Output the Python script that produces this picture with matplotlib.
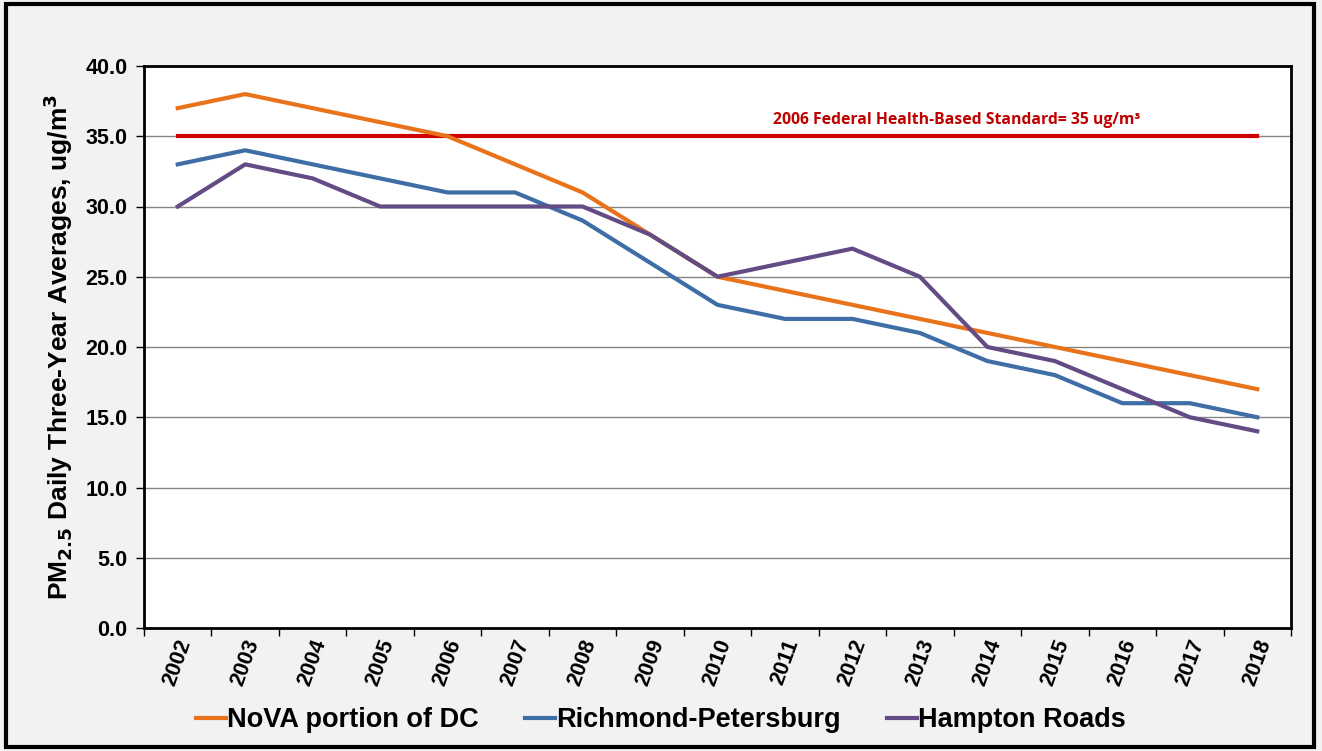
import matplotlib.pyplot as plt
from matplotlib.patches import Rectangle

years = [str(y) for y in range(2002, 2019)]
nova = [37, 38, 37, 36, 35, 33, 31, 28, 25, 24, 23, 22, 21, 20, 19, 18, 17]
richmond = [33, 34, 33, 32, 31, 31, 29, 26, 23, 22, 22, 21, 19, 18, 16, 16, 15]
hampton = [30, 33, 32, 30, 30, 30, 30, 28, 25, 26, 27, 25, 20, 19, 17, 15, 14]
standard = 35
yticks = [0, 5, 10, 15, 20, 25, 30, 35, 40]

plt.rcParams['font.family'] = ['Liberation Sans', 'DejaVu Sans']

fig = plt.figure(figsize=(13.22, 7.51), dpi=100, facecolor='#f2f2f2')
# outer frame
fig.patches.append(Rectangle((6 / 1322, 4 / 751), 1308 / 1322, 743 / 751,
                             transform=fig.transFigure, fill=False,
                             edgecolor='black', linewidth=3))

ax = fig.add_axes([144 / 1322, (751 - 628) / 751, 1147 / 1322, 562 / 751])
ax.set_facecolor('white')

x = list(range(len(years)))
lw = 3.0
ax.plot(x, [standard] * len(x), color='#d00000', lw=lw, zorder=3)
ax.plot(x, nova, color='#e8731a', lw=lw, label='NoVA portion of DC', zorder=4)
ax.plot(x, richmond, color='#3f6ea6', lw=lw, label='Richmond-Petersburg', zorder=4)
ax.plot(x, hampton, color='#634b85', lw=lw, label='Hampton Roads', zorder=4)

ax.text(11.55, 35.6, '2006 Federal Health-Based Standard= 35 ug/m³', color='#c00000',
        fontsize=11.3, fontweight='bold', family=['Open Sans', 'DejaVu Sans'],
        ha='center', va='bottom')

ax.set_xlim(-0.5, len(years) - 0.5)
ax.set_ylim(0, 40)
ax.set_yticks(yticks)
ax.set_yticklabels([f'{v:.1f}' for v in yticks], fontsize=15.5, fontweight='bold')
ax.yaxis.grid(True, color='#858585', lw=1)
ax.set_axisbelow(True)

# category axis: ticks between categories, labels centred
ax.set_xticks([i - 0.5 for i in range(len(years) + 1)])
ax.set_xticklabels([])
ax.set_xticks(x, minor=True)
ax.set_xticklabels(years, minor=True, rotation=70, fontsize=15.5, fontweight='bold',
                   ha='center', va='top')
ax.tick_params(axis='x', which='minor', length=0, pad=6)
ax.tick_params(axis='x', which='major', length=6, width=1, direction='out')
ax.tick_params(axis='y', length=6, width=1, direction='out', pad=6)

for s in ax.spines.values():
    s.set_color('black')
    s.set_linewidth(2)

ax.set_ylabel('PM$_{\\mathbf{2.5}}$ Daily Three-Year Averages, ug/m$^{\\mathbf{3}}$',
              fontsize=19, fontweight='bold', labelpad=7)

fig.legend(loc='center', bbox_to_anchor=(0.5, (751 - 720) / 751),
           ncol=3, frameon=False, handlelength=1.1,
           handletextpad=0.05, columnspacing=1.7,
           prop={'weight': 'bold', 'size': 19.5})

fig.savefig('out.png', dpi=100, facecolor=fig.get_facecolor())
